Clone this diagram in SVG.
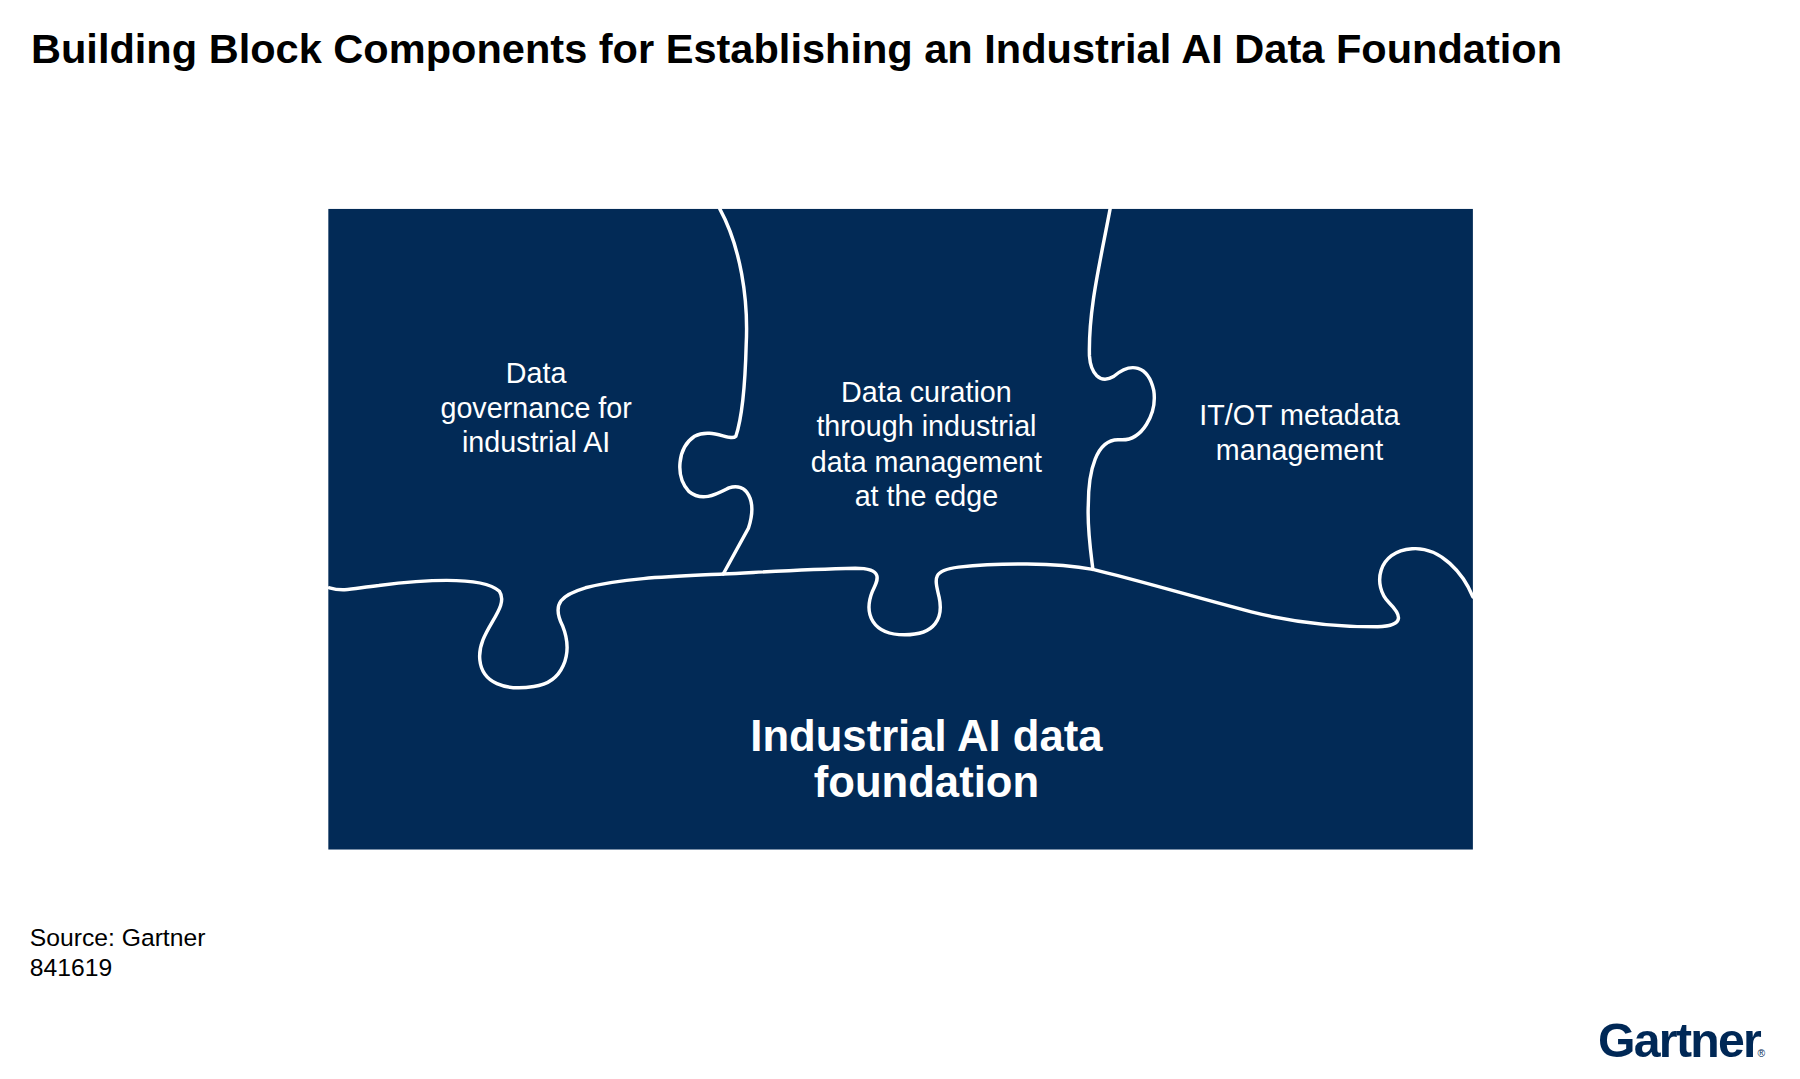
<svg xmlns="http://www.w3.org/2000/svg" width="1800" height="1079" viewBox="0 0 1800 1079">
<style>
.t{font-family:"Liberation Sans",Arial,sans-serif}
.lbl{font-family:"Liberation Sans",Arial,sans-serif;font-size:25px;fill:#fff;text-anchor:middle}
.big{font-family:"Liberation Sans",Arial,sans-serif;font-size:38px;font-weight:bold;fill:#fff;text-anchor:middle}
.cut{fill:none;stroke:#fff;stroke-width:3;stroke-linecap:round}
</style>
<rect width="1800" height="1079" fill="#fff"/>
<g transform="scale(1.148)">
<text class="t" x="27" y="55" font-size="36.2" font-weight="bold" fill="#000">Building Block Components for Establishing an Industrial AI Data Foundation</text>
<g id="board"><rect x="286" y="182" width="997" height="558" fill="#022a56"/></g>
<g id="connectors">
<path class="cut" d="M627,182 C645,215 652,260 650,300 C649,340 646,365 641,380 C636,385 620,372 605,380 C590,390 588,415 600,428 C612,438 625,430 635,425 C650,420 660,435 652,460 L630,500"/>
<path class="cut" d="M967,182 C958,230 948,270 949,310 C950,325 958,335 970,328 C985,315 1000,318 1005,340 C1008,360 995,385 975,383 C955,382 948,410 948,440 C947,460 950,480 952,496"/>
<path class="cut" d="M287,512 C300,516 310,512 330,510 C370,505 420,502 435,515 C445,530 415,550 418,575 C420,595 440,602 465,598 C490,595 500,570 490,545 C480,525 490,518 510,512 C545,503 590,502 630,500 C670,498 700,496 745,495 C770,495 765,505 760,515 C752,535 760,553 788,553 C815,553 822,538 818,520 C814,503 812,497 835,494 C870,490 920,490 952,496 C990,505 1040,520 1090,533 C1130,543 1170,546 1200,546 C1225,545 1220,535 1210,525 C1195,510 1200,480 1230,478 C1255,476 1275,500 1283,520"/>
</g>
<g id="governance"><text class="lbl" x="467" y="334">Data</text><text class="lbl" x="467" y="364">governance for</text><text class="lbl" x="467" y="394">industrial AI</text></g>
<g id="curation"><text class="lbl" x="807" y="350">Data curation</text><text class="lbl" x="807" y="380">through industrial</text><text class="lbl" x="807" y="411">data management</text><text class="lbl" x="807" y="441">at the edge</text></g>
<g id="metadata"><text class="lbl" x="1132" y="370">IT/OT metadata</text><text class="lbl" x="1132" y="401">management</text></g>
<g id="foundation"><text class="big" x="807" y="654">Industrial AI data</text><text class="big" x="807" y="694">foundation</text></g>
<text class="t" x="26" y="824" font-size="21.5" fill="#000">Source: Gartner</text>
<text class="t" x="26" y="850" font-size="21.5" fill="#000">841619</text>
<text class="t" x="1392" y="921" font-size="42" font-weight="bold" fill="#002856" letter-spacing="-1.5">Gartner</text>
<text class="t" x="1531" y="921" font-size="9" fill="#002856">®</text>
</g>
</svg>
